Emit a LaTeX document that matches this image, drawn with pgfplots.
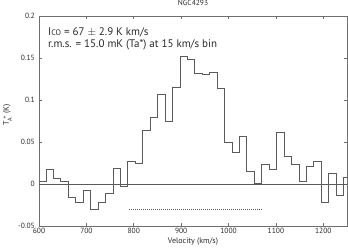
\documentclass[border=0pt]{standalone}
\usepackage{fontspec}
\setmainfont{PT Sans}
\usepackage{pgfplots}
\pgfplotsset{compat=1.18}
\definecolor{linegray}{HTML}{5A5A5A}
\definecolor{framegray}{HTML}{6E6E6E}
\definecolor{txt}{HTML}{2A2A2A}
\begin{document}
\begin{tikzpicture}
\useasboundingbox (-39pt,-23pt) rectangle (309pt,226pt);
\begin{axis}[
  scale only axis,
  width=308pt, height=210pt,
  xmin=600, xmax=1250, ymin=-0.05, ymax=0.2,
  xtick={600,700,800,900,1000,1100,1200},
  xticklabels={600,700,800,900,1000,1100,1200},
  ytick={-0.05,0,0.05,0.1,0.15,0.2},
  yticklabels={-0.05,0,0.05,0.1,0.15,0.2},
  tick align=inside, tick pos=both,
  major tick length=3pt,
  axis line style={framegray, line width=0.9pt},
  every tick/.style={framegray, line width=0.7pt},
  tick label style={font=\fontsize{7.5}{8}\selectfont, text=txt},
  xticklabel style={inner sep=1pt, yshift=-0.5pt},
  yticklabel style={inner sep=1pt, xshift=-3pt},
  xlabel={Velocity (km/s)},
  xlabel style={font=\fontsize{8}{9}\selectfont, text=txt, at={(axis description cs:0.5,0)}, anchor=center, yshift=-16pt},
  ylabel={T$_\mathrm{A}^{\,*}$ (K)},
  ylabel style={font=\fontsize{8}{9}\selectfont, text=txt, at={(axis description cs:-0.102,0.53)}, anchor=center},
  title={NGC4293},
  title style={font=\fontsize{7.5}{8}\selectfont, text=txt, at={(axis description cs:0.5,1)}, anchor=center, yshift=7.5pt},
  clip=true,
]
\addplot[const plot, linegray, line width=0.8pt] coordinates {
(600,0.0036) (614.8,0.0175) (630.5,0.0068) (646.2,0.0028) (661.9,-0.0159)
(677.6,-0.0222) (693.3,-0.0075) (709.0,-0.030) (724.7,-0.0218) (740.4,-0.011)
(756.1,0.0187) (771.8,-0.0032) (787.5,0.0266) (803.2,0.0242) (818.9,0.0639)
(834.6,0.079) (850.3,0.107) (866.0,0.075) (881.7,0.115) (897.4,0.152)
(913.1,0.1488) (928.8,0.1317) (944.5,0.1305) (960.2,0.133) (975.9,0.1135)
(991.6,0.050) (1007.3,0.0377) (1023.0,0.0567) (1038.7,0.0151) (1054.4,0.0008)
(1070.1,0.0238) (1085.8,0.017) (1101.5,0.0615) (1117.2,0.0333) (1132.9,0.0238)
(1148.6,0.0036) (1164.3,0.021) (1180.0,0.0266) (1195.7,-0.0222) (1211.4,0.0127)
(1227.1,-0.0131) (1242.8,0.008) (1250,0.008)
};
\addplot[linegray, line width=0.7pt] coordinates {(600,0) (1250,0)};
\addplot[linegray, line width=0.5pt, dash pattern=on 1.2pt off 0.8pt] coordinates {(790,-0.030) (1072,-0.030)};
\node[anchor=base west, font=\fontsize{11}{12}\selectfont, text=txt, inner sep=0pt] at (rel axis cs:0.029,0.905) {I{\fontsize{8}{8}\selectfont CO} = 67 $\pm$ 2.9 K km/s};
\node[anchor=base west, font=\fontsize{11}{12}\selectfont, text=txt, inner sep=0pt] at (rel axis cs:0.029,0.848) {r.m.s. = 15.0 mK (Ta*) at 15 km/s bin};
\end{axis}
\end{tikzpicture}
\end{document}
